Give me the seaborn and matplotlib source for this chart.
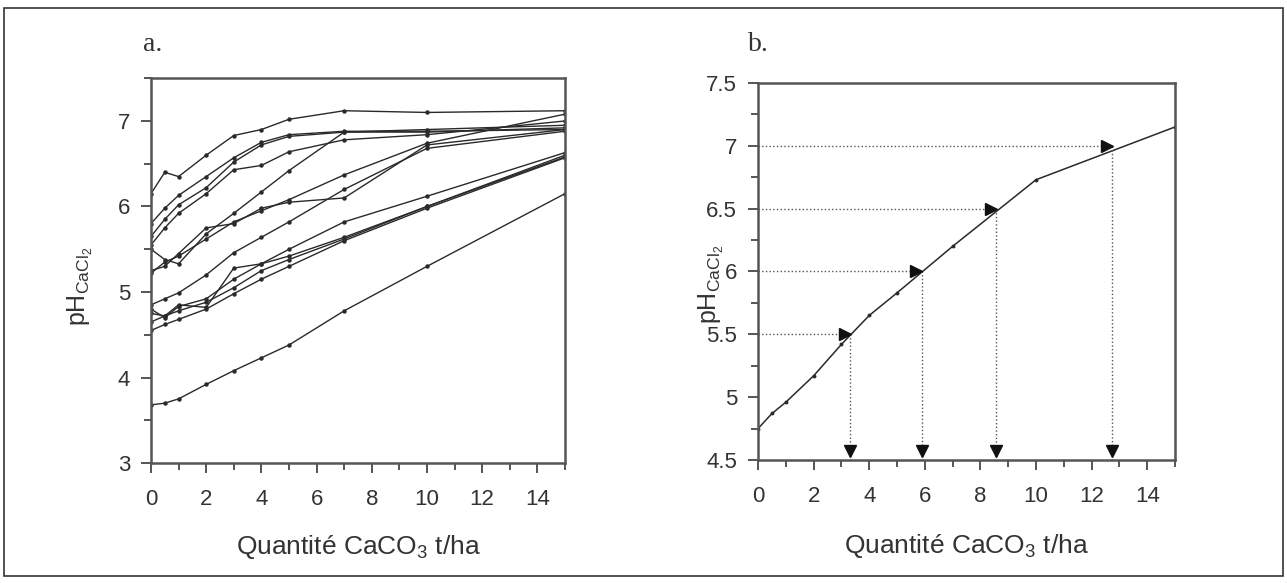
import numpy as np
import pandas as pd
import matplotlib.pyplot as plt
import seaborn as sb
from matplotlib.ticker import MultipleLocator
from matplotlib.patches import Rectangle

# doses de CaCO3 (t/ha) communes a toutes les courbes
doses = [0, 0.5, 1, 2, 3, 4, 5, 7, 10, 15]

# panel a : courbes de neutralisation, une par sol
sol_1 = [6.15, 6.40, 6.35, 6.60, 6.83, 6.90, 7.02, 7.12, 7.10, 7.12]
sol_2 = [5.80, 5.98, 6.13, 6.35, 6.57, 6.75, 6.84, 6.88, 6.88, 6.90]
sol_3 = [5.65, 5.85, 6.02, 6.22, 6.52, 6.72, 6.82, 6.87, 6.87, 6.92]
sol_4 = [5.55, 5.75, 5.92, 6.15, 6.43, 6.48, 6.64, 6.78, 6.84, 7.00]
sol_5 = [5.50, 5.38, 5.33, 5.68, 5.92, 6.17, 6.42, 6.87, 6.90, 6.95]
sol_6 = [5.25, 5.30, 5.45, 5.75, 5.80, 5.98, 6.05, 6.10, 6.72, 6.90]
sol_7 = [5.22, 5.35, 5.42, 5.62, 5.82, 5.95, 6.08, 6.37, 6.74, 7.08]
sol_8 = [4.85, 4.92, 4.99, 5.20, 5.46, 5.64, 5.82, 6.20, 6.68, 6.88]
sol_9 = [4.80, 4.70, 4.83, 4.92, 5.15, 5.33, 5.50, 5.82, 6.12, 6.63]
sol_10 = [4.75, 4.72, 4.85, 4.82, 5.28, 5.33, 5.42, 5.64, 6.00, 6.60]
sol_11 = [4.65, 4.72, 4.78, 4.88, 5.05, 5.25, 5.38, 5.62, 6.00, 6.58]
sol_12 = [4.55, 4.62, 4.68, 4.80, 4.98, 5.15, 5.30, 5.60, 5.98, 6.57]
sol_13 = [3.68, 3.70, 3.75, 3.92, 4.08, 4.23, 4.38, 4.78, 5.30, 6.15]

# panel b : une courbe et les lectures de dose pour 4 pH cibles
ph_b = [4.75, 4.87, 4.96, 5.17, 5.42, 5.65, 5.83, 6.20, 6.73, 7.15]
cible_ph = [5.5, 6.0, 6.5, 7.0]
cible_dose = [3.3, 5.88, 8.55, 12.75]

sols = [sol_1, sol_2, sol_3, sol_4, sol_5, sol_6, sol_7,
        sol_8, sol_9, sol_10, sol_11, sol_12, sol_13]
data = pd.DataFrame({
    'dose': doses * len(sols),
    'ph': [v for s in sols for v in s],
    'sol': [i for i, s in enumerate(sols) for v in s],
})
data_b = pd.DataFrame({'dose': doses, 'ph': ph_b})

sb.set_style('ticks')
plt.rcParams['font.family'] = ['Liberation Sans', 'DejaVu Sans']
plt.rcParams['mathtext.fontset'] = 'custom'
plt.rcParams['mathtext.rm'] = 'Liberation Sans'
plt.rcParams['mathtext.it'] = 'Liberation Sans'

ink = '#2a2a2a'
txt = '#333333'
fig = plt.figure(figsize=(12.87, 5.83), dpi=100)
fig.patches.append(Rectangle((0.003, 0.012), 0.994, 0.975, transform=fig.transFigure,
                             fill=False, edgecolor='#333333', lw=1.2))

ax_a = fig.add_axes([0.1173, 0.2058, 0.3217, 0.660])
ax_b = fig.add_axes([0.589, 0.211, 0.324, 0.6467])

sb.lineplot(data=data, x='dose', y='ph', units='sol', estimator=None, ax=ax_a,
            color=ink, lw=1.0, marker='o', markersize=3.2, markeredgewidth=0)
ax_a.set_xlim(0, 15)
ax_a.set_ylim(3, 7.5)
ax_a.yaxis.set_major_locator(MultipleLocator(1))
ax_a.yaxis.set_minor_locator(MultipleLocator(0.5))

sb.lineplot(data=data_b, x='dose', y='ph', ax=ax_b, color=ink, lw=1.1,
            marker='o', markersize=2.8, markeredgewidth=0)
for d, p in zip(cible_dose, cible_ph):
    ax_b.plot([0, d], [p, p], ls=':', color='#555555', lw=1.0)
    ax_b.plot([d, d], [p, 4.5], ls=':', color='#555555', lw=1.0)
ax_b.plot(np.array(cible_dose) - 0.18, cible_ph, ls='none', marker='>',
          color='#111111', markersize=8)
ax_b.plot(cible_dose, [4.57] * len(cible_dose), ls='none', marker='v',
          color='#111111', markersize=8)
ax_b.set_xlim(0, 15)
ax_b.set_ylim(4.5, 7.5)
ax_b.yaxis.set_minor_locator(MultipleLocator(0.25))
ax_b.set_yticks([4.5, 5, 5.5, 6, 6.5, 7, 7.5])
ax_b.set_yticklabels(['4.5', '5', '5.5', '6', '6.5', '7', '7.5'])

for ax in (ax_a, ax_b):
    ax.xaxis.set_major_locator(MultipleLocator(2))
    ax.xaxis.set_minor_locator(MultipleLocator(1))
    for s in ax.spines.values():
        s.set_color('#555555')
        s.set_linewidth(1.8)
    ax.tick_params(which='both', direction='out', color='#555555', width=1.4,
                   labelsize=16, labelcolor=txt)
    ax.tick_params(which='major', length=7)
    ax.tick_params(which='minor', length=5)
    ax.tick_params(axis='x', which='major', pad=12)
    ax.tick_params(axis='y', which='major', pad=8)
    ax.set_xlabel('Quantité CaCO$_3$ t/ha', fontsize=19, color=txt)
    ax.set_ylabel('pH$_{\\mathrm{CaCl_2}}$', fontsize=18, color=txt)

ax_a.set_xticks(range(0, 15, 2))
ax_b.set_xticks(range(0, 15, 2))

ax_a.xaxis.set_label_coords(0.5, -0.182)
ax_b.xaxis.set_label_coords(0.5, -0.19)
ax_a.yaxis.set_label_coords(-0.135, 0.46)
ax_b.yaxis.set_label_coords(-0.078, 0.465)

fig.text(0.111, 0.912, 'a.', family='Liberation Serif', fontsize=20, color=txt)
fig.text(0.581, 0.912, 'b.', family='Liberation Serif', fontsize=20, color=txt)

fig.savefig('out.png', dpi=100)
